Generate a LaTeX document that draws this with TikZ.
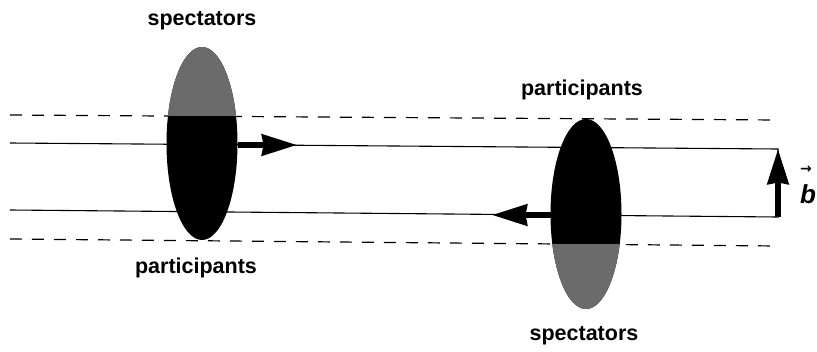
\documentclass[tikz,border=0pt]{standalone}
\usepackage{fontspec}
\setmainfont{Liberation Sans}
\newfontfamily\arrowglyph{DejaVu Sans}
\usetikzlibrary{arrows.meta}
\definecolor{halftone}{gray}{0.42}
\begin{document}
\begin{tikzpicture}[x=1pt,y=-1pt,
  lbl/.style={font=\fontsize{21.5}{24}\selectfont\bfseries, inner sep=0pt, anchor=base},
  guide/.style={line width=1.2pt, dash pattern=on 12pt off 10pt},
  beam/.style={line width=1.1pt},
  push/.style={line width=5.5pt, -{Stealth[length=35pt,width=21pt,inset=1.5pt]}},
  ]
\useasboundingbox (0,0) rectangle (817,351);
% reference coordinates
\coordinate (dTL) at (10,115);  \coordinate (dTR) at (778,120);
\coordinate (dBL) at (10,239);  \coordinate (dBR) at (778,246);
\coordinate (uL) at (10,143);   \coordinate (uR) at (778,149);
\coordinate (lL) at (10,210);   \coordinate (lR) at (778,217);
% guide lines
\draw[guide] (dTL) -- (dTR);
\draw[guide] (dBL) -- (dBR);
\draw[beam] (uL) -- (uR) -- (lR) -- (lL);
% left nucleus
\fill[black] (202,143.5) ellipse [x radius=35.5, y radius=96.5];
\begin{scope}
  \clip (202,143.5) ellipse [x radius=35.5, y radius=96.5];
  \fill[halftone] (160,40) rectangle (245,116.3);
\end{scope}
\coordinate (lnE) at (237.5,145);
\coordinate (lnTip) at (297,145);
% right nucleus
\fill[black] (586,214) ellipse [x radius=35.5, y radius=95];
\begin{scope}
  \clip (586,214) ellipse [x radius=35.5, y radius=95];
  \fill[halftone] (540,244.3) rectangle (630,320);
\end{scope}
\coordinate (rnW) at (551,215);
\coordinate (rnTip) at (492,215);
% motion arrows
\draw[push] (lnE) -- (lnTip);
\draw[push] (rnW) -- (rnTip);
\draw[push] (lR) -- (uR);
% labels
\node[lbl] (specL) at (202,25.5) {spectators};
\node[lbl] (partR) at (582,95) {participants};
\node[lbl] (partL) at (196,273) {participants};
\node[lbl] (specR) at (584,340) {spectators};
\node[anchor=base west, inner sep=0pt] (bvec) at (800,203)
  {\raisebox{30pt}[0pt][0pt]{\rlap{\fontsize{14}{14}\selectfont\arrowglyph\bfseries →}}\fontsize{26}{30}\selectfont\bfseries\itshape b};
\end{tikzpicture}
\end{document}
